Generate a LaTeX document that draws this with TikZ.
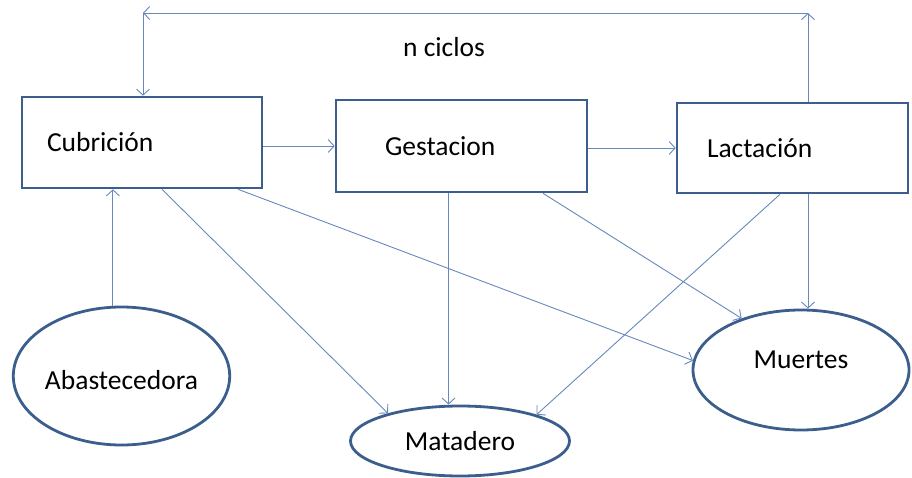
\documentclass[tikz,border=0pt]{standalone}
\usepackage{fontspec}
\setmainfont{Carlito}
\usepackage{tikz}
\usetikzlibrary{positioning,calc,shapes,arrows.meta}
\definecolor{borde}{HTML}{3B5E8C}
\definecolor{flechas}{HTML}{6688BC}

\tikzset{etapa/.style={draw=borde,line width=2.6pt,rectangle,align=left,minimum height=91pt},
destino/.style={draw=borde,line width=2.8pt,ellipse,inner sep=0pt},
flecha/.style={draw=flechas,line width=0.9pt,-{Straight Barb[length=6pt,width=13pt]}}}

\begin{document}
\begin{tikzpicture}[x=1pt,y=-1pt,font=\fontsize{27.5}{33}\selectfont]
\useasboundingbox (0,0) rectangle (912,478);
% etapas del ciclo
\node[etapa,text width=190pt,inner xsep=25pt] (cub) at (142,142.5) {Cubrición};
\node[etapa,text width=153pt,inner xsep=49pt,minimum height=92pt] (ges) at (461.5,146) {Gestacion};
\node[etapa,text width=171pt,inner xsep=30pt,minimum height=90pt] (lac) at (792.5,148) {Lactación};
% entradas y salidas
\node[destino,minimum width=216pt,minimum height=138pt,text height=28pt] (abas) at (121.5,376) {Abastecedora};
\node[destino,minimum width=219pt,minimum height=70pt] (mat) at (460,441) {Matadero};
\node[destino,minimum width=216pt,minimum height=120pt,text depth=20pt] (mue) at (801,370) {Muertes};
\node (ciclos) at (444,47) {n ciclos};
\coordinate (vueltad) at (808,13); \coordinate (vueltai) at (143,13);
% n ciclos
\draw[flecha] ([xshift=15.5pt]lac.north) -- (vueltad); \draw[flecha] (vueltad) -- (vueltai);
\draw[flecha] (vueltai) -- (vueltai |- cub.north);
\draw[flecha] (cub.east |- ges.west) -- (ges.west); \draw[flecha] (ges.east |- lac.west) -- (lac.west);
\draw[flecha] (abas.97) -- (abas.97 |- cub.south);
\draw[flecha] ([xshift=20pt]cub.south) -- (mat.159); \draw[flecha] ([xshift=96pt]cub.south) -- (mue.175);
\draw[flecha] ([xshift=-13pt]ges.south) -- ([xshift=-13pt]ges.south |- mat.north);
\draw[flecha] ([xshift=81.5pt]ges.south) -- (mue.139);
\draw[flecha] ([xshift=-12.5pt]lac.south) -- (mat.19);
\draw[flecha] ([xshift=15.5pt]lac.south) -- ([xshift=15.5pt]lac.south |- mue.north);
\end{tikzpicture}
\end{document}
